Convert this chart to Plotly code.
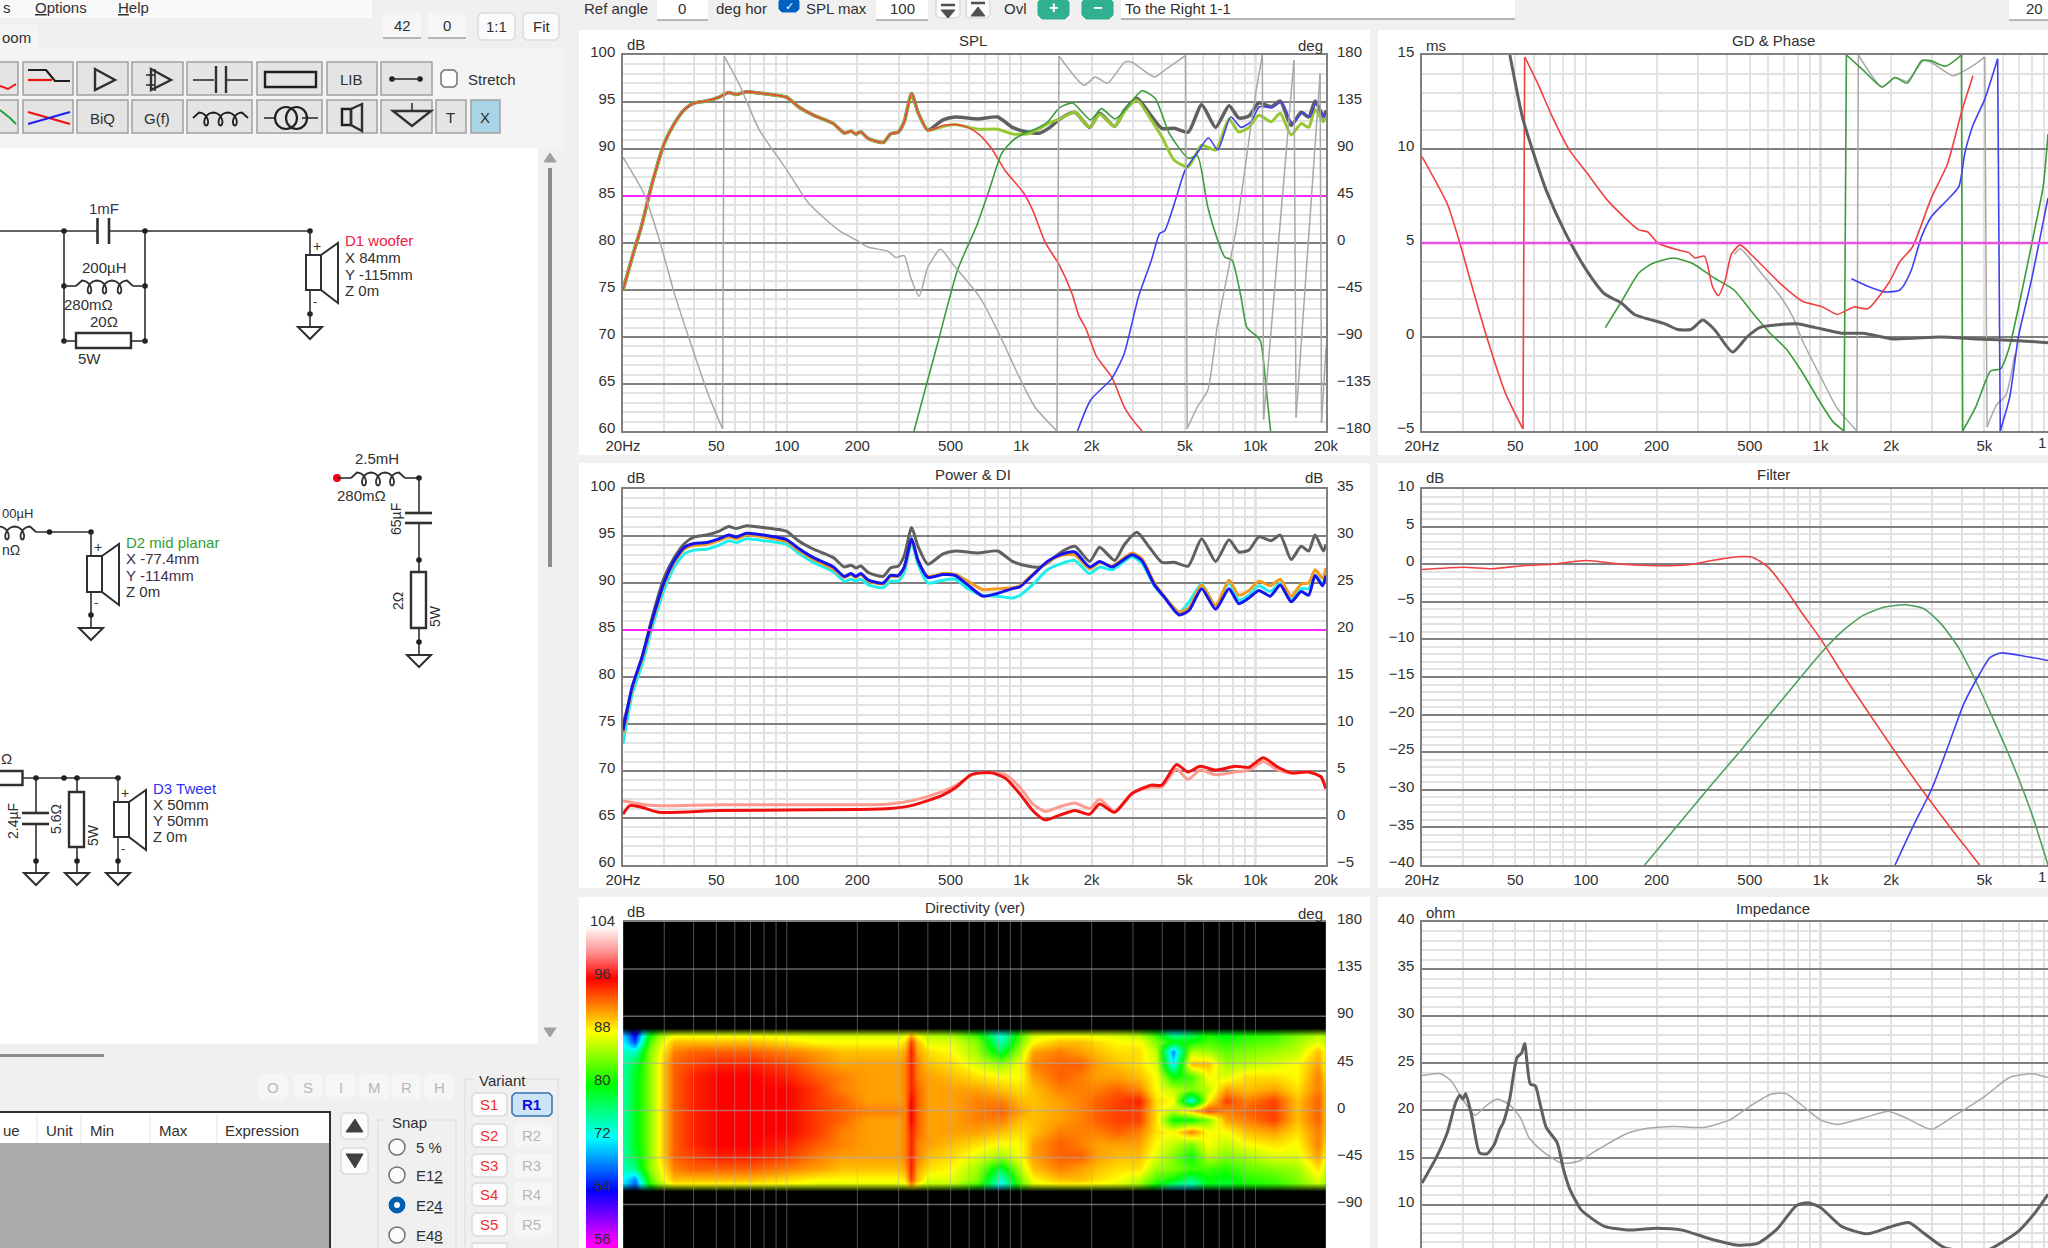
import math
import numpy as np
import plotly.graph_objects as go

W, H = 2048, 1248
FONT = "Liberation Sans, sans-serif"
UI_FONT = "Liberation Sans, sans-serif"

# frequency ticks
f_ticks = [20, 50, 100, 200, 500, 1000, 2000, 5000, 10000, 20000]
f_labels = ['20Hz', '50', '100', '200', '500', '1k', '2k', '5k', '10k', '20k']
f_minor = [30, 40, 60, 70, 80, 90, 300, 400, 600, 700, 800, 900, 3000, 4000, 6000, 7000, 8000, 9000]
f_major = [100, 1000, 10000]

# SPL panel, all in dB
spl_freq = [20, 21.9, 24.1, 26.6, 30, 33.1, 36.6, 40.3, 45.4, 51.2, 56.6, 60.9, 67.3, 79.6, 100, 112, 130, 158, 176, 188,
            197, 207, 223, 258, 277, 299, 317, 341, 363, 400, 464, 524, 653, 794, 919, 1064, 1203, 1327, 1463, 1695,
            1960, 2163, 2506, 2761, 3120, 3525, 3984, 4501, 5164, 5893, 6762, 7710, 8495, 9377, 10340, 11680, 12760,
            14200, 15670, 16870, 17970, 19500, 20000]
spl_total = [75, 78.5, 82, 86.3, 90.6, 92.7, 94.2, 94.9, 95.1, 95.5, 96, 95.8, 96.1, 95.9, 95.5, 94.5, 93.6, 92.7, 91.7, 91.9,
             91.6, 91.8, 91.1, 90.7, 91.6, 91.8, 92.9, 95.9, 93.9, 92, 93.1, 93.4, 93.2, 93.4, 92.3, 91.8, 91.7, 92.3, 93.2, 93.9,
             92.3, 93.8, 92.4, 94.1, 95.4, 93.8, 92.2, 92.2, 91.8, 94.7, 92.3, 94.6, 93.3, 93.5, 94.9, 94.5, 95.1, 92.5, 93.9, 93.4,
             95.1, 93.4, 94.1]
spl_olive = spl_total[:30] + [92.4, 92.6, 92.1, 92.1, 91.6, 91.6, 92.2, 92.8, 93.2, 93.9, 92.3, 93.7, 92.4, 94, 95.2, 93.4,
                              91.3, 88.8, 88.1, 90.4, 89.9, 93.2, 91.8, 92.3, 93.6, 92.9, 93.8, 91.5, 92.7, 92.3, 94.2, 92.9, 93.6]
woofer_freq = spl_freq[:30] + [464, 524, 592, 665, 750, 860, 1020, 1120, 1265, 1460, 1650, 1760, 1890, 2100, 2440, 2750, 3030, 3280]
woofer_db = spl_total[:30] + [92.5, 92.6, 92.3, 91.5, 90, 87.6, 85.4, 83.5, 80.1, 77.6, 74.6, 72.3, 70.9, 67.9, 65.7, 62.6, 61, 60]
mid_freq = [349, 440, 535, 650, 730, 825, 920, 1020, 1145, 1300, 1460, 1660, 1980, 2200, 2530, 3280, 3730, 4300, 5180, 5650,
            6260, 6900, 7400, 7940, 8670, 9200, 10000, 10500, 11100, 11600]
mid_db = [60, 69.3, 77.1, 82, 85.6, 89.5, 90.9, 91.6, 92.1, 92.9, 94.4, 94.9, 93.1, 94.3, 93.2, 96.2, 95.4, 91.6, 89, 89.3,
          83.8, 80.3, 78.5, 78.2, 74.3, 71, 70.2, 69.6, 64.7, 60]
tweet_freq = [1740, 1980, 2440, 2750, 3170, 3600, 3900, 4100, 4600, 5000, 5650, 6300, 6900, 7850, 8670, 9560, 10400, 11800,
              12950, 14400, 15900, 17100, 18200, 19700, 20000]
tweet_db = [60, 63.3, 65.6, 68.2, 74.3, 78.2, 81, 81.3, 84.9, 87.7, 89.6, 91.2, 89.9, 93.4, 92.3, 92.9, 94.5, 94.4,
            95, 92.7, 93.9, 93.4, 95, 93.4, 94.1]
# None marks where the phase wraps round
phase_freq = [20, 24.6, 28.6, 33.1, 39.3, 46.6, 53.2, None, 54, 62.7, 76.4, 100, 124, 167, 197, 223, 271, 292, 317, 338, 367, 400,
              453, 510, 667, 794, 989, 1145, 1422, None, 1450, 1856, 2070, 2340, 2760, 2972, 3706, 4181, 5036, None,
              5110, 5650, 6260, 6870, 8300, 9900, 10700, None, 10830, 14600, None, 14900, 18870, None, 19140, 20000]
phase_deg = [82, 47, 3, -48, -99, -147, -178, None, 179, 152, 108, 70, 38, 12, 3, -4, -8, -14, -12, -33, -51, -23,
             -6, -20, -52, -84, -130, -157, -180, None, 179, 151, 159, 153, 173, 173, 159, 167, 179.5, None,
             -178, -157, -141, -80, 15, 136, 180, None, -169, 175, None, -167, 162, None, -172, -100]

# Power & DI panel
pw_freq = [20, 21.9, 24.1, 26.6, 30, 33.1, 36.6, 40.3, 45.4, 51.2, 56.6, 60.9, 67.3, 79.6, 100, 112, 130, 158, 176, 188,
           197, 207, 223, 258, 277, 299, 317, 341, 363, 400, 464, 524, 592, 686, 794, 919, 989, 1117, 1295, 1463,
           1695, 1960, 2163, 2445, 2972, 3275, 3706, 4083, 4730, 5216, 5893, 6762, 7710, 8495, 9377, 10340, 11570,
           12760, 14200, 15670, 16870, 17970, 19340, 20000]
pw_blue = [74.3, 79, 82.1, 86, 90.1, 92.4, 93.8, 94.2, 94.3, 94.7, 95.1, 94.9, 95.3, 95.1, 94.6, 93.7, 92.7, 91.7, 90.7, 91,
           90.7, 91, 90.3, 90, 90.8, 90.8, 91.7, 94.7, 92.4, 90.6, 90.9, 90.8, 89.8, 88.6, 88.9, 89.4, 89.6, 90.8, 92.3, 93,
           93.3, 91.7, 92.3, 91.7, 93, 92.4, 89.8, 88.5, 86.6, 87.1, 89.4, 87.2, 89.4, 87.8, 88.4, 89.2, 88.6, 89.8, 88, 89.1,
           88.7, 90.8, 89.7, 90.8]
pw_orange = [74, 78.8, 81.9, 85.8, 89.9, 92.2, 93.6, 94, 94.1, 94.5, 94.9, 94.7, 95.1, 94.9, 94.4, 93.5, 92.5, 91.5, 90.6, 90.9,
             90.6, 90.9, 90.2, 89.9, 90.7, 90.7, 91.6, 94.6, 92.4, 90.7, 91, 90.9, 90.2, 89.3, 89.4, 89.5, 89.7, 90.9, 92.2, 92.9,
             93, 91.5, 92.2, 91.8, 93.2, 92.6, 90, 88.6, 86.9, 87.4, 89.8, 87.6, 90.3, 88.7, 89.2, 90.2, 89.7, 90.4, 88.6, 89.9,
             90, 91.4, 90.5, 91.6]
pw_cyan = [72.9, 78.2, 81.3, 85.2, 89.3, 91.7, 93.1, 93.5, 93.6, 94, 94.5, 94.3, 94.7, 94.5, 94.1, 93.2, 92.2, 91.2, 90.2, 90.4,
           90.2, 90.4, 89.8, 89.5, 90.2, 90.2, 91.1, 94.3, 92, 90, 90.3, 90.4, 89.4, 88.7, 88.6, 88.4, 88.7, 89.8, 91.4, 92,
           92.4, 91, 91.7, 91.4, 92.8, 92.1, 89.7, 88.5, 86.9, 88, 89.9, 87.5, 90, 88.2, 88.7, 89.7, 89.1, 90, 88.2, 89.4,
           89.4, 90.8, 89.9, 90.8]
di_freq = [20, 21.3, 23.6, 28.6, 51, 197, 275, 350, 460, 530, 610, 675, 750, 860, 1000, 1120, 1265, 1460, 1695, 1960, 2163, 2506,
           2972, 3580, 3980, 4600, 5164, 5800, 6760, 8200, 9377, 10800, 12500, 14200, 16870, 19000, 20000]
di_red = [0.4, 1.3, 1.2, 0.6, 0.8, 0.9, 1, 1.4, 2.4, 3.3, 4.6, 4.8, 4.8, 4.2, 2.4, 0.8, -0.2, 0.3, 0.8, 0.4, 1.5, 0.6,
          2.6, 3.5, 3.5, 5.7, 4.9, 5.5, 5.1, 5.5, 5.4, 6.4, 5.4, 4.8, 4.9, 4.4, 3.1]
di_pink = [1.8, 1.7, 1.5, 1.3, 1.4, 1.4, 1.5, 1.9, 2.8, 3.5, 4.5, 4.8, 4.8, 4.6, 3.1, 1.5, 0.7, 1.2, 1.6, 1, 2, 0.7,
           2.6, 3.3, 3.3, 5.2, 4.1, 5.1, 4.6, 4.9, 5.1, 6, 5.1, 4.8, 4.9, 4.4, 3.1]

# GD & Phase panel, ms
gd_total_freq = [47.4, 53.6, 59.7, 67.7, 82, 100, 120, 142, 161, 217, 246, 280, 315, 353, 422, 486, 550, 790, 953, 1230, 1520,
                 2040, 3250, 4600, 7000, 9335]
gd_total = [15, 11.7, 9.8, 7.8, 5.5, 3.6, 2.3, 1.8, 1.2, 0.7, 0.4, 0.4, 0.9, 0.4, -0.8, 0, 0.5, 0.7, 0.5, 0.2, 0.2,
            -0.1, 0, -0.1, -0.2, -0.3]
gd_red_freq = [20, 25.6, 29, 33.7, 38.2, 45.4, 53.9, None, 54.8, 62.2, 72, 85.5, 100, 125, 168, 183, 203, 252, 274, 292, 320,
               346, 367, 392, 417, 455, 505, 680, 838, 1020, 1180, 1390, 1590, 1960, 2180, 2470, 2970, 3480, 4000, 4470]
gd_red = [9.6, 7.1, 5, 2.1, -0.2, -3, -4.9, None, 14.9, 13.5, 11.7, 9.9, 8.8, 7.2, 5.7, 5.6, 5, 4.6, 4.5, 4.2, 4.3,
          2.7, 2.2, 3, 4.4, 4.9, 4.4, 2.8, 1.9, 1.6, 1.2, 1.6, 1.5, 2.9, 4, 4.8, 7.4, 9.2, 12, 13.9]
gd_gray_freq = [430, 455, 550, 680, 760, 838, 1000, 1180, 1430, None, 1450, 1830, 2080, 2340, 2750, 2970, 3670, 4030, 4560, 5020, None,
                5130, 5640, 6170, 6740]
gd_gray = [4.4, 4.7, 3.5, 2.1, 1.1, -0.2, -2.1, -3.8, -5, None, 15, 13.3, 13.8, 13.6, 14.7, 14.6, 13.9, 14.1, 14.5, 14.9, None,
           -4.8, -3.6, -3.1, -0.9]
gd_green_freq = [121, 142, 168, 191, 236, 286, 346, 428, 505, 610, 710, 838, 1000, 1130, 1260, None, 1290, 1520, 1830, 2080, 2340,
                 2700, 2950, 3420, 3990, None, 4040, 4600, 5320, 5860, 6400, 7300, 8000, 8900, 9335]
gd_green = [0.5, 1.9, 3.4, 3.9, 4.2, 3.9, 3.2, 2.5, 1.4, 0.2, -0.6, -1.9, -3.5, -4.5, -5, None, 15, 14.2, 13.3, 13.8, 13.5,
            14.7, 14.7, 14.4, 15, None, -5, -3.7, -1.8, -1.7, -0.5, 2.7, 5.1, 8, 10.8]
gd_blue_freq = [1356, 1590, 1880, 2180, 2430, 2690, 2970, 3480, 3890, 4130, 4480, 5000, 5695, None, 5843, 6410, 6980, 7925, 9335]
gd_blue = [3.1, 2.7, 2.4, 2.5, 3.5, 5.3, 6.4, 7.3, 8, 9.8, 11.3, 12.6, 14.8, None, -5, -3.2, 0, 3, 7.4]

# Filter panel, dB
flt_red_freq = [20, 30, 40, 53.7, 72, 100, 142, 200, 268, 361, 445, 515, 598, 710, 838, 1000, 1280, 1690, 2230, 2860, 3700, 4770]
flt_red = [-0.7, -0.4, -0.6, -0.2, 0, 0.5, 0, -0.2, -0.1, 0.6, 1, 0.9, -0.4, -3.3, -6.6, -9.9, -15.2, -20.8, -26.3, -31, -35.6, -40]
flt_green_freq = [178, 331, 465, 598, 805, 1000, 1230, 1520, 1880, 2300, 2750, 3260, 3860, 4590, 5400, 6690, 7960, 9335]
flt_green = [-40, -29.9, -24.5, -20.3, -15.4, -11.9, -9, -6.8, -5.7, -5.4, -5.9, -7.9, -11, -15.5, -20.3, -27, -33.2, -40]
flt_blue_freq = [2080, 2470, 2980, 3530, 4080, 4770, 5290, 5870, 7000, 9335]
flt_blue = [-40, -35, -29.9, -23.9, -18.6, -14.6, -12.4, -11.8, -12.1, -12.8]

# Impedance panel, ohm
imp_freq = [20, 23, 25.6, 27.8, 29, 29.9, 30.7, 32.6, 35.2, 37.9, 40.7, 42.9, 44.4, 47.3, 50.8, 53.2, 54.8, 57.9, 60.9, 63.6,
            67.7, 75.3, 80.3, 85.5, 95, 100, 120, 155, 200, 257, 346, 445, 540, 653, 790, 885, 1000, 1230, 1590, 1960,
            2380, 2750, 3400, 4560, 5180, 7000, 8250, 9335]
imp_mag = [12.3, 15, 17.6, 20.8, 21.6, 21.2, 21.8, 19.4, 15.5, 15.4, 16.4, 18, 18.7, 21.2, 25.6, 26.1, 27.1, 22.8, 22.6, 20.8,
           18.2, 16.6, 13.7, 11.6, 9.5, 9, 7.7, 7.3, 7.5, 7.3, 6.3, 5.7, 5.9, 7.4, 9.9, 10.2, 9.7, 7.7, 6.9, 7.6,
           8.1, 7, 5.4, 5.1, 5.2, 7.2, 9.2, 11.1]
imp2_freq = [20, 24, 26.7, 29.6, 33.7, 37.5, 41.6, 47.3, 52.6, 57.2, 65, 78.6, 93, 110, 148, 183, 236, 318, 410, 505,
             610, 710, 838, 1000, 1180, 1520, 1960, 2320, 2970, 3700, 5020, 6400, 8000, 9335]
imp2_mag = [23.7, 23.9, 23.1, 21.3, 19.5, 20.5, 21.2, 20.6, 19.2, 17.1, 15.7, 14.4, 14.6, 15.7, 17.5, 18.1, 18.3, 18.2, 19, 20.5,
            21.7, 21.8, 20.5, 19, 18.5, 19.2, 19.9, 19.2, 18, 19.4, 21.5, 23.5, 23.9, 23.5]

# Directivity map, one line per frequency, dB at each angle
dir_angle = [76, 66, 56, 44, 32, 20, 9, 0, -9, -20, -32, -44, -56, -66, -76]
dir_freq = [20, 22.4, 25.8, 29, 33, 40, 51, 72, 100, 137, 170, 223, 300, 320, 340, 360, 400, 510, 650, 820, 1000, 1120,
            1460, 1800, 2100, 2570, 3180, 3770, 4430, 5300, 6300, 7500, 9100, 12000, 15000, 18500, 20000]
dir_db = [
    [70, 72, 74, 75, 75, 75, 75, 75, 75, 75, 75, 75, 74, 72, 70],
    [62, 66, 74, 78, 79, 79, 79, 79, 79, 79, 79, 78, 76, 68, 66],
    [78, 82, 84, 84, 84, 84, 84, 84, 84, 84, 84, 84, 84, 82, 78],
    [84, 87, 88, 89, 89, 89, 89, 89, 89, 89, 89, 89, 88, 87, 84],
    [86, 90, 92, 93, 93, 93, 93, 93, 93, 93, 93, 93, 92, 90, 86],
    [86, 90, 93, 94, 95, 95, 95, 95, 95, 95, 95, 94, 93, 90, 86],
    [86, 90, 93, 95, 96, 96, 96, 96, 96, 96, 96, 95, 93, 90, 86],
    [86, 90, 93, 95, 96, 96, 96, 96, 96, 96, 96, 95, 93, 90, 86],
    [86, 89, 92, 94, 95, 96, 96, 96, 96, 96, 95, 94, 92, 89, 86],
    [86, 88, 91, 92, 93, 94, 94, 94, 94, 94, 93, 92, 91, 88, 86],
    [86, 88, 90, 91, 92, 92, 93, 93, 93, 92, 92, 91, 90, 88, 86],
    [86, 88, 90, 91, 91, 91, 91, 92, 91, 91, 91, 91, 90, 88, 86],
    [86, 88, 90, 91, 91, 91, 91, 92, 91, 91, 91, 91, 90, 88, 86],
    [86, 89, 91, 92, 92, 92, 92, 92, 92, 92, 92, 92, 91, 89, 86],
    [88, 94, 95, 95, 95, 95, 96, 96, 96, 95, 95, 95, 95, 94, 88],
    [86, 90, 91, 92, 92, 93, 93, 93, 93, 93, 92, 92, 91, 90, 86],
    [85, 87, 89, 90, 91, 91, 91, 91, 91, 91, 91, 90, 89, 87, 85],
    [84, 87, 88, 89, 90, 91, 91, 91, 91, 91, 90, 89, 88, 87, 84],
    [80, 84, 85, 87, 89, 91, 92, 92, 92, 91, 89, 87, 85, 84, 80],
    [72, 74, 78, 85, 88, 90, 92, 93, 92, 90, 88, 85, 78, 73, 71],
    [82, 84, 86, 88, 88, 89, 90, 91, 90, 89, 88, 88, 86, 84, 82],
    [86, 88, 91, 92, 91, 90, 90, 90, 90, 90, 91, 91, 90, 88, 86],
    [86, 90, 92, 93, 93, 92, 91, 91, 91, 92, 93, 93, 92, 90, 86],
    [86, 90, 91, 93, 92, 92, 92, 92, 92, 92, 92, 93, 91, 90, 86],
    [86, 89, 90, 91, 91, 92, 93, 93, 93, 92, 91, 91, 90, 89, 86],
    [86, 88, 89, 90, 91, 93, 94, 94, 94, 93, 91, 90, 89, 88, 86],
    [84, 88, 89, 89, 90, 92, 95, 94, 94, 92, 91, 90, 89, 86, 84],
    [80, 84, 86, 87, 88, 88, 89, 89, 89, 89, 88, 87, 85, 82, 78],
    [72, 80, 68, 72, 80, 86, 88, 86, 80, 88, 86, 84, 84, 80, 72],
    [76, 80, 86, 90, 82, 84, 72, 90, 80, 92, 84, 80, 82, 76, 72],
    [80, 82, 85, 90, 88, 86, 88, 94, 84, 88, 88, 86, 82, 80, 79],
    [78, 81, 83, 85, 87, 91, 94, 92, 91, 88, 86, 84, 81, 79, 78],
    [80, 82, 84, 86, 89, 90, 92, 93, 92, 90, 88, 85, 83, 81, 80],
    [81, 83, 85, 87, 89, 91, 94, 94, 94, 91, 89, 87, 84, 82, 81],
    [83, 85, 86, 88, 88, 89, 90, 90, 90, 89, 88, 87, 85, 84, 83],
    [85, 87, 90, 91, 92, 92, 93, 93, 93, 92, 92, 91, 89, 87, 85],
    [84, 86, 88, 88, 89, 90, 90, 90, 90, 90, 89, 88, 86, 85, 84],
]
fade_angle = [180, 79, 71, -69, -77, -180]
fade_alpha = [1, 1, 0, 0, 1, 1]
bar_levels = [56, 60, 64, 68, 72, 76, 80, 84, 88, 92, 96, 100, 104]
bar_ticks = [56, 64, 72, 80, 88, 96, 104]

rainbow = [[0, '#ff00ff'], [4/48, '#8000ff'], [8/48, '#0000ff'], [12/48, '#0080ff'], [16/48, '#00ffff'], [20/48, '#00ff80'],
           [24/48, '#00ff00'], [28/48, '#80ff00'], [32/48, '#ffff00'], [36/48, '#ff8000'], [40/48, '#ff0000'], [44/48, '#ff9090'],
           [1, '#ffffff']]

GRID = '#e2e2e2'
DARK = '#808080'
TXT = '#303030'
CURVE_TOTAL = '#606060'
PHASE = '#a8a8a8'
RED = '#f04040'
GREEN = '#3c9c3c'
BLUE = '#4040f0'
OLIVE = '#96c832'
MAGENTA = '#ff20ff'
TICK = 15
LIFT = -3  # y tick labels sit a little above their grid line


def px(x):
    return x / W


def py(y):
    return 1 - y / H


fig = go.Figure()
shapes = []
notes = []


def curve(x, y, xa, ya, color, width, smooth=True):
    line = dict(color=color, width=width)
    if smooth:
        line.update(shape='spline', smoothing=0.6)
    fig.add_trace(go.Scatter(x=x, y=y, xaxis=xa, yaxis=ya, mode='lines', line=line, hoverinfo='skip',
                             connectgaps=False))
    # straight vertical piece at every wrap
    jx, jy = [], []
    for i in range(1, len(x) - 1):
        if x[i] is None:
            jx += [x[i - 1], x[i + 1], None]
            jy += [y[i - 1], y[i + 1], None]
    if jx:
        fig.add_trace(go.Scatter(x=jx, y=jy, xaxis=xa, yaxis=ya, mode='lines', line=dict(color=color, width=width),
                                 hoverinfo='skip'))


def x_axis(left, right, fmax, anchor, labels=True, closed=True):
    return dict(type='log', range=[math.log10(20), math.log10(fmax)], domain=[px(left), px(right)], anchor=anchor,
                tickmode='array', tickvals=f_ticks, ticktext=f_labels, ticks='', showticklabels=labels, automargin=False,
                showgrid=True, gridcolor=GRID, gridwidth=1.5, zeroline=False,
                minor=dict(tickmode='array', tickvals=f_minor, showgrid=True, gridcolor=GRID, gridwidth=1.5, ticks=''),
                showline=True, linecolor=DARK, linewidth=1.5, mirror=closed,
                side='bottom' if closed else 'top',
                tickfont=dict(family=FONT, size=TICK, color=TXT))


def y_axis(top, bottom, rng, anchor, dtick=5, closed=True):
    return dict(range=rng, domain=[py(bottom), py(top)], anchor=anchor, tick0=0, dtick=dtick, ticks='', automargin=False,
                showgrid=True, gridcolor=DARK, gridwidth=1.5, zeroline=False, ticklabelstandoff=3, ticklabelshift=LIFT,
                minor=dict(dtick=1, tick0=0, showgrid=True, gridcolor=GRID, gridwidth=1.5, ticks=''),
                showline=True, linecolor=DARK, linewidth=1.5, mirror=closed,
                tickfont=dict(family=FONT, size=TICK, color=TXT))


def y_right(rng, over, anchor, dtick):
    return dict(range=rng, overlaying=over, anchor=anchor, side='right', dtick=dtick, tick0=0, ticks='', showgrid=False,
                automargin=False, zeroline=False, ticklabelstandoff=10, ticklabelshift=LIFT,
                tickfont=dict(family=FONT, size=TICK, color=TXT))


# grey panels and the six charts
L1, R1, L2, R2 = 623, 1326, 1422, 2048
gd_fmax = 9335
dir_rng = [-131.5, 180]
imp_rng = [5.4, 40]
bar_rng = [55.3, 104.5]
fig.update_layout(
    width=W, height=H, margin=dict(l=0, r=0, t=0, b=0, pad=0), autosize=False, showlegend=False, hovermode=False,
    paper_bgcolor='#f0f0f0', plot_bgcolor='rgba(0,0,0,0)',
    xaxis=x_axis(L1, R1, 20000, 'y'), yaxis=y_axis(55, 431, [60, 100], 'x'), yaxis2=y_right([-180, 180], 'y', 'x', 45),
    xaxis2=x_axis(L1, R1, 20000, 'y3'), yaxis3=y_axis(489, 865, [60, 100], 'x2'), yaxis4=y_right([-5, 35], 'y3', 'x2', 5),
    xaxis3=x_axis(L1, R1, 20000, 'y5', labels=False, closed=False),
    yaxis5=dict(range=dir_rng, domain=[py(H), py(922)], anchor='x3', side='right', dtick=45, tick0=0, ticks='', automargin=False,
                showgrid=False, zeroline=False, ticklabelstandoff=10, ticklabelshift=LIFT,
                tickfont=dict(family=FONT, size=TICK, color=TXT)),
    xaxis4=dict(range=[0, 1], domain=[px(586), px(618)], anchor='y6', visible=False, automargin=False),
    yaxis6=dict(range=bar_rng, domain=[py(H), py(922)], anchor='x4', automargin=False, showticklabels=False,
                ticks='', showgrid=False, zeroline=False, showline=False),
    xaxis5=x_axis(L2, R2, gd_fmax, 'y7'), yaxis7=y_axis(55, 431, [-5, 15], 'x5'),
    xaxis6=x_axis(L2, R2, gd_fmax, 'y8'), yaxis8=y_axis(489, 865, [-40, 10], 'x6'),
    xaxis7=x_axis(L2, R2, gd_fmax, 'y9', labels=False, closed=False), yaxis9=y_axis(922, H, imp_rng, 'x7', closed=False),
)

# SPL
curve(spl_freq, spl_total, 'x', 'y', CURVE_TOTAL, 3.5)
curve(spl_freq, spl_olive, 'x', 'y', OLIVE, 3)
curve(woofer_freq, woofer_db, 'x', 'y', RED, 1.6)
curve(mid_freq, mid_db, 'x', 'y', GREEN, 1.6)
curve(tweet_freq, tweet_db, 'x', 'y', BLUE, 1.6)
curve([20, 20000], [85, 85], 'x', 'y', MAGENTA, 2, smooth=False)
curve(phase_freq, phase_deg, 'x', 'y2', PHASE, 1.5)

# Power & DI
curve(spl_freq, spl_total, 'x2', 'y3', CURVE_TOTAL, 3)
curve(pw_freq, pw_cyan, 'x2', 'y3', '#20eeee', 3)
curve(pw_freq, pw_orange, 'x2', 'y3', '#f59a20', 3)
curve(pw_freq, pw_blue, 'x2', 'y3', '#1414ee', 3)
curve([20, 20000], [85, 85], 'x2', 'y3', MAGENTA, 2, smooth=False)
curve(di_freq, di_pink, 'x2', 'y4', '#ff9a90', 3)
curve(di_freq, di_red, 'x2', 'y4', '#f01010', 3)

# directivity map with the dark fade at both edges
fig.add_trace(go.Heatmap(x=dir_freq, y=dir_angle, z=np.array(dir_db).T.tolist(), xaxis='x3', yaxis='y5', colorscale=rainbow,
                         zmin=56, zmax=104, zsmooth='best', showscale=False, hoverinfo='skip'))
fig.add_trace(go.Heatmap(x=[20, 20000], y=fade_angle, z=[[a, a] for a in fade_alpha], xaxis='x3', yaxis='y5', zmin=0, zmax=1,
                         colorscale=[[0, 'rgba(0,0,0,0)'], [1, 'rgba(0,0,0,1)']], zsmooth='best', showscale=False,
                         hoverinfo='skip'))
fig.add_trace(go.Heatmap(x=[0, 1], y=bar_levels, z=[[v, v] for v in bar_levels], xaxis='x4', yaxis='y6', colorscale=rainbow,
                         zmin=56, zmax=104, zsmooth='best', showscale=False, hoverinfo='skip'))

# GD & phase
curve(gd_gray_freq, gd_gray, 'x5', 'y7', PHASE, 1.5)
curve(gd_green_freq, gd_green, 'x5', 'y7', GREEN, 1.6)
curve(gd_blue_freq, gd_blue, 'x5', 'y7', BLUE, 1.6)
curve(gd_red_freq, gd_red, 'x5', 'y7', RED, 1.6)
curve(gd_total_freq, gd_total, 'x5', 'y7', CURVE_TOTAL, 3)
curve([20, gd_fmax], [5, 5], 'x5', 'y7', '#e850e0', 2.5, smooth=False)

# Filter
curve(flt_red_freq, flt_red, 'x6', 'y8', RED, 1.6)
curve(flt_green_freq, flt_green, 'x6', 'y8', '#50a060', 1.6)
curve(flt_blue_freq, flt_blue, 'x6', 'y8', BLUE, 1.6)

# Impedance
curve(imp2_freq, imp2_mag, 'x7', 'y9', PHASE, 1.5)
curve(imp_freq, imp_mag, 'x7', 'y9', CURVE_TOTAL, 3)


def rect(x0, y0, x1, y1, fill='rgba(0,0,0,0)', edge=None, w=1, layer='above', radius=0):
    if radius:
        r = radius
        p = [(x0 + r, y0), (x1 - r, y0), (x1, y0 + r), (x1, y1 - r), (x1 - r, y1), (x0 + r, y1), (x0, y1 - r), (x0, y0 + r)]
        poly(p, fill=fill, edge=edge or fill, w=w, layer=layer)
        return
    shapes.append(dict(type='rect', xref='paper', yref='paper', x0=px(x0), x1=px(x1), y0=py(y0), y1=py(y1),
                       fillcolor=fill, line=dict(color=edge or 'rgba(0,0,0,0)', width=w if edge else 0), layer=layer))


def wire(x0, y0, x1, y1, color='#303030', w=1.6):
    shapes.append(dict(type='line', xref='paper', yref='paper', x0=px(x0), x1=px(x1), y0=py(y0), y1=py(y1),
                       line=dict(color=color, width=w)))


def poly(points, fill='rgba(0,0,0,0)', edge='#303030', w=1.8, closed=True, layer='above'):
    d = 'M' + ' L'.join('%.5f,%.5f' % (px(a), py(b)) for a, b in points) + (' Z' if closed else '')
    shapes.append(dict(type='path', xref='paper', yref='paper', path=d, fillcolor=fill, line=dict(color=edge, width=w),
                       layer=layer))


def node(x, y, r=2.8, color='#202020'):
    shapes.append(dict(type='circle', xref='paper', yref='paper', x0=px(x - r), x1=px(x + r), y0=py(y - r), y1=py(y + r),
                       fillcolor=color, line=dict(color=color, width=0)))


def text(x, y, s, color=TXT, size=15, anchor='left', angle=0, font=UI_FONT):
    notes.append(dict(xref='paper', yref='paper', x=px(x), y=py(y), text=s, showarrow=False, xanchor=anchor, yanchor='middle',
                      textangle=angle, font=dict(family=font, size=size, color=color)))


def coil(x0, x1, y, color='#303030'):
    pts = [(x0, y)]
    loops = 3
    for i in range(61):
        t = i / 60
        th = 2 * math.pi * loops * t
        pts.append((x0 + 6 + (x1 - x0 - 12) * t + 5 * math.sin(th), y - 6.5 * math.cos(th) + 1))
    pts.append((x1, y))
    poly(pts, edge=color, w=1.8, closed=False)


def ground(x, top):
    poly([(x - 12, top), (x + 12, top), (x, top + 12)], w=2)


def speaker(x, top, bottom):
    rect(x - 4, top, x + 11, bottom, edge='#303030', w=2)
    poly([(x + 11, top), (x + 28, top - 12), (x + 28, bottom + 13), (x + 11, bottom)], w=2)
    text(x + 7, top - 9, '+', size=14, anchor='center')
    text(x + 5, bottom + 11, '-', size=13, anchor='center')


# white panels behind the charts
for x0, y0, x1, y1 in [(579, 30, 1370, 455), (1378, 30, W, 455), (579, 463, 1370, 888), (1378, 463, W, 888),
                       (579, 897, 1370, H), (1378, 897, W, H)]:
    rect(x0, y0, x1, y1, fill='#ffffff', layer='below')

# the grid is drawn over the map
for v in f_ticks + f_minor:
    shapes.append(dict(type='line', xref='x3', yref='y5 domain', x0=v, x1=v, y0=0, y1=1,
                       line=dict(color='rgba(170,170,170,0.45)', width=1), layer='above'))
for v in [135, 90, 45, 0, -45, -90]:
    shapes.append(dict(type='line', xref='x3 domain', yref='y5', x0=0, x1=1, y0=v, y1=v,
                       line=dict(color='rgba(170,170,170,0.6)', width=1.5), layer='above'))

# darker decade lines
for xa, ya in [('x', 'y'), ('x2', 'y3'), ('x5', 'y7'), ('x6', 'y8'), ('x7', 'y9')]:
    for v in f_major:
        if xa in ('x5', 'x6', 'x7') and v > gd_fmax:
            continue
        shapes.append(dict(type='line', xref=xa, yref=ya + ' domain', x0=v, x1=v, y0=0, y1=1,
                           line=dict(color=DARK, width=1.5), layer='below'))

# colour bar numbers sit on the bar, a little above their level
for v in bar_ticks:
    text(602, 922 + (bar_rng[1] - v) * (H - 922) / (bar_rng[1] - bar_rng[0]) - 5, str(v), anchor='center', size=TICK)

# panel captions
for cx, cy, s in [(973, 41, 'SPL'), (973, 474, 'Power &amp; DI'), (975, 907, 'Directivity (ver)'),
                  (1773, 41, 'GD &amp; Phase'), (1773, 474, 'Filter'), (1773, 908, 'Impedance')]:
    text(cx, cy, s, anchor='center', size=15, font=FONT)
for lx, ly, s in [(625, 45, 'dB'), (1310, 46, 'deg'), (625, 478, 'dB'), (1314, 478, 'dB'), (625, 911, 'dB'), (1310, 913, 'deg'),
                  (1424, 46, 'ms'), (1424, 478, 'dB'), (1424, 912, 'ohm')]:
    text(lx, ly, s, anchor='left' if lx < 1300 or lx > 1400 else 'center', size=15, font=FONT)
# only the first digit of 10k fits on these two panels
text(2048, 443, '1', anchor='right', size=TICK, font=FONT)
text(2048, 877, '1', anchor='right', size=TICK, font=FONT)

# left side: canvas, toolbar, table
rect(0, 148, 538, 1044, fill='#ffffff')
rect(0, 49, 563, 148, fill='#f4f4f4')
rect(0, 0, 372, 18, fill='#f9f9f9')
rect(0, 25, 38, 49, fill='#f4f4f4')
text(1, 8, 's', size=15)
text(33, 8, '<u>O</u>ptions', size=15)
text(116, 8, '<u>H</u>elp', size=15)
text(0, 37, 'oom', size=15)

for x0, x1, s in [(383, 421, '42'), (428, 466, '0')]:
    rect(x0, 13, x1, 38, fill='#f6f6f6')
    wire(x0, 38, x1, 38, color='#a0a0a0', w=1.5)
    text((x0 + x1) / 2, 25, s, anchor='center', size=15, font=FONT)
for x0, x1, s in [(478, 515, '1:1'), (523, 559, 'Fit')]:
    rect(x0, 13, x1, 40, fill='#fbfbfb', edge='#dcdcdc', w=1.5, radius=3)
    text((x0 + x1) / 2, 26, s, anchor='center', size=15, font=FONT)

row1 = [(-8, 18), (23, 73), (77, 128), (132, 183), (187, 252), (257, 322), (327, 377), (381, 432)]
row2 = row1 + [(436, 466)]
for x0, x1 in row1:
    rect(x0, 62, x1, 95, fill='#e4e4e4', edge='#a0a0a0', w=1.5)
for x0, x1 in row2:
    rect(x0, 100, x1, 133, fill='#e4e4e4', edge='#a0a0a0', w=1.5)
rect(471, 100, 500, 133, fill='#a8d4e6', edge='#a0a0a0', w=1.5)
text(351, 79, 'LIB', anchor='center', size=15)
text(102, 118, 'BiQ', anchor='center', size=15)
text(157, 118, 'G(f)', anchor='center', size=15)
text(450, 117, 'T', anchor='center', size=15)
text(485, 117, 'X', anchor='center', size=15)
rect(441, 70, 457, 87, fill='#ffffff', edge='#707070', w=1.5, radius=3)
text(466, 79, 'Stretch', size=15)
# toolbar icons
poly([(0, 86), (8, 89), (16, 84)], edge='#f01010', closed=False, w=2)
poly([(0, 110), (10, 118), (16, 124)], edge='#20a040', closed=False, w=2)
poly([(28, 70), (46, 70), (55, 81), (70, 81)], edge='#202020', closed=False, w=2.2)
wire(28, 80, 52, 80, color='#f01010', w=2.2)
wire(28, 112, 70, 124, color='#f01010', w=2.2)
wire(28, 124, 70, 112, color='#2020f0', w=2.2)
poly([(95, 69), (115, 80), (95, 90)], w=2.4)
poly([(151, 69), (171, 80), (151, 90)], w=2.4)
wire(146, 75, 155, 75)
wire(146, 85, 155, 85)
wire(155, 69, 155, 91)
wire(193, 80, 214, 80)
wire(226, 80, 248, 80)
wire(216, 66, 216, 93, w=2.4)
wire(226, 66, 226, 93, w=2.4)
rect(265, 72, 316, 87, edge='#202020', w=2.4)
node(392, 79)
node(420, 79)
wire(392, 79, 420, 79)
coil(193, 248, 118, color='#202020')
wire(264, 118, 275, 118)
wire(302, 118, 318, 118)
shapes.append(dict(type='circle', xref='paper', yref='paper', x0=px(275), x1=px(297), y0=py(107), y1=py(129), line=dict(color='#202020', width=2.2)))
shapes.append(dict(type='circle', xref='paper', yref='paper', x0=px(286), x1=px(307), y0=py(107), y1=py(129), line=dict(color='#202020', width=2.2)))
rect(342, 109, 351, 125, edge='#202020', w=2.4)
poly([(351, 109), (362, 104), (362, 131), (351, 125)], w=2.4)
poly([(393, 111), (431, 111), (412, 126)], w=2.4)
wire(412, 103, 412, 111)

# scroll bar
rect(538, 148, 563, 1044, fill='#f0f0f0')
rect(548, 168, 552, 567, fill='#8c8c8c')
poly([(544, 162), (556, 162), (550, 153)], fill='#a0a0a0', edge='#a0a0a0', w=1)
poly([(544, 1028), (556, 1028), (550, 1037)], fill='#a0a0a0', edge='#a0a0a0', w=1)
rect(0, 1054, 104, 1057, fill='#8c8c8c')

# schematic: D1 woofer
wire(0, 231, 97.5, 231)
wire(109, 231, 310, 231)
wire(97.5, 218, 97.5, 244, w=2.6)
wire(109, 218, 109, 244, w=2.6)
wire(64, 231, 64, 341)
wire(145, 231, 145, 341)
for nx, ny in [(64, 231), (145, 231), (310, 231), (64, 286), (145, 286), (64, 341), (145, 341), (310, 314)]:
    node(nx, ny)
wire(64, 286, 76, 286)
coil(76, 133, 286)
wire(133, 286, 145, 286)
wire(64, 341, 76, 341)
wire(131, 341, 145, 341)
rect(76, 333, 131, 348, fill='#ffffff', edge='#303030', w=2.4)
wire(310, 231, 310, 255)
speaker(310, 255, 290)
wire(310, 290, 310, 327)
ground(310, 327)
text(104, 209, '1mF', anchor='center', color='#40304a')
text(104, 267, '200µH', anchor='center')
text(62, 304, '280mΩ')
text(104, 322, '20Ω', anchor='center')
text(89, 358, '5W', anchor='center')
text(343, 241, 'D1 woofer', color='#f02040')
text(343, 257, 'X 84mm')
text(343, 274, 'Y -115mm')
text(343, 290, 'Z 0m')

# D2 mid planar
coil(-22, 36, 532)
wire(36, 532, 91, 532)
node(49.5, 532)
node(91, 532)
wire(91, 532, 91, 556)
speaker(91, 556, 592)
wire(91, 592, 91, 628)
node(91, 615)
ground(91, 628)
text(0, 513, '00µH', size=13)
text(0, 550, 'nΩ', size=14)
text(123.5, 542, 'D2 mid planar', color='#30a030')
text(123.5, 558, 'X -77.4mm', color='#40304a')
text(123.5, 575, 'Y -114mm', color='#40304a')
text(123.5, 591, 'Z 0m')

# notch branch
node(337, 478, r=4, color='#f00010')
wire(337, 478, 351, 478)
coil(351, 405, 478)
wire(405, 478, 419, 478)
node(419, 478)
wire(419, 478, 419, 513)
wire(405, 513, 432, 513, w=2.6)
wire(405, 523, 432, 523, w=2.6)
wire(419, 523, 419, 572)
node(419, 560)
rect(411, 572, 426, 628, fill='#ffffff', edge='#303030', w=2.4)
wire(419, 628, 419, 655)
node(419, 642)
ground(419, 655)
text(377, 458, '2.5mH', anchor='center')
text(361, 496, '280mΩ', anchor='center')
text(396, 519, '65µF', anchor='center', angle=-90, size=14)
text(398, 601, '2Ω', anchor='center', angle=-90, size=14)
text(435, 616, '5W', anchor='center', angle=-90, size=14)

# D3 tweeter
rect(-20, 771, 22.5, 785, fill='#ffffff', edge='#303030', w=2.4)
wire(22.5, 778, 118, 778)
for nx in [36, 64, 77, 118]:
    node(nx, 778)
text(6, 759, 'Ω', anchor='center')
wire(36, 778, 36, 813)
wire(22, 813, 49, 813, w=2.6)
wire(22, 824, 49, 824, w=2.6)
wire(36, 824, 36, 873)
wire(77, 778, 77, 792)
rect(69, 792, 84, 847, fill='#ffffff', edge='#303030', w=2.4)
wire(77, 847, 77, 873)
wire(118, 778, 118, 802)
speaker(118, 802, 837)
wire(118, 837, 118, 873)
for nx in [36, 77, 118]:
    node(nx, 861)
    ground(nx, 873)
text(13, 821, '2.4µF', anchor='center', angle=-90, size=14)
text(56, 819, '5.6Ω', anchor='center', angle=-90, size=14)
text(93, 835, '5W', anchor='center', angle=-90, size=14)
text(151, 788, 'D3 Tweet', color='#3030f0')
text(151, 804, 'X 50mm')
text(151, 820, 'Y 50mm')
text(151, 837, 'Z 0m')

# small disabled buttons
for cx, s in zip([273, 308, 341, 374, 406, 439], ['O', 'S', 'I', 'M', 'R', 'H']):
    rect(cx - 14, 1074, cx + 14, 1099, fill='#f6f6f6', radius=3)
    text(cx, 1087, s, anchor='center', color='#b8b8b8', size=15)

# variant box
rect(465, 1079, 558, H + 5, edge='#dcdcdc', w=1)
rect(474, 1072, 522, 1088, fill='#f0f0f0')
text(477, 1080, 'Variant', size=15)
for i, cy in enumerate([1104, 1135, 1165, 1194, 1224]):
    rect(472, cy - 11, 507, cy + 12, fill='#fbfbfb', edge='#dcdcdc', w=1.5, radius=3)
    text(489, cy, 'S%d' % (i + 1), anchor='center', color='#f03030', size=15, font=FONT)
    if i == 0:
        rect(512, cy - 11, 552, cy + 12, fill='#cce4f7', edge='#3070b0', w=1.5, radius=3)
        text(531, cy, '<b>R1</b>', anchor='center', color='#1010e0', size=15)
    else:
        rect(514, cy - 11, 552, cy + 12, fill='#f6f6f6', radius=3)
        text(531, cy, 'R%d' % (i + 1), anchor='center', color='#b8b8b8', size=15, font=FONT)
rect(472, 1243, 507, H + 5, fill='#fbfbfb', edge='#dcdcdc', w=1.5)

# parameter table
rect(-5, 1112, 330, H + 5, fill='#ababab', edge='#303030', w=2)
rect(0, 1113, 329, 1143, fill='#ffffff')
for dx in [37, 81, 150, 217]:
    wire(dx, 1114, dx, 1143, color='#e8e8e8', w=1.2)
for cx, s in [(60, 'Unit'), (102, 'Min'), (173, 'Max'), (262, 'Expression')]:
    text(cx, 1130, s, anchor='center', size=15, font=FONT)
text(1, 1130, 'ue', size=15, font=FONT)

# move row buttons
rect(341, 1113, 368, 1139, fill='#fbfbfb', edge='#dcdcdc', w=1.5, radius=3)
rect(341, 1148, 368, 1174, fill='#fbfbfb', edge='#dcdcdc', w=1.5, radius=3)
poly([(346, 1132), (363, 1132), (355, 1119)], fill='#404040', edge='#404040', w=1)
poly([(346, 1154), (363, 1154), (355, 1168)], fill='#404040', edge='#404040', w=1)

# snap group
rect(378, 1120, 456, H + 5, edge='#dcdcdc', w=1)
rect(386, 1112, 426, 1130, fill='#f0f0f0')
text(390, 1122, 'Snap', size=15)
for cy, s, on in [(1147, '5 %', False), (1175, 'E1<u>2</u>', False), (1205, 'E2<u>4</u>', True), (1235, 'E4<u>8</u>', False)]:
    if on:
        shapes.append(dict(type='circle', xref='paper', yref='paper', x0=px(389), x1=px(405), y0=py(cy - 8), y1=py(cy + 8),
                           fillcolor='#0060b0', line=dict(color='#0060b0', width=1)))
        node(397, cy, r=3, color='#ffffff')
    else:
        shapes.append(dict(type='circle', xref='paper', yref='paper', x0=px(389), x1=px(405), y0=py(cy - 8), y1=py(cy + 8),
                           fillcolor='#fbfbfb', line=dict(color='#707070', width=1.5)))
    text(414, cy, s, size=15, font=FONT)

# top strip over the charts
text(582, 9, 'Ref angle', size=15)
rect(657, -2, 708, 20, fill='#ffffff')
wire(657, 20, 708, 20, color='#a0a0a0', w=1.5)
text(682, 9, '0', anchor='center', size=15)
text(714, 9, 'deg hor', size=15)
rect(779, -2, 799, 12, fill='#0060c0', radius=3)
text(789, 6, '✓', anchor='center', color='#ffffff', size=11)
text(804, 9, 'SPL max', size=15)
rect(876, -2, 928, 20, fill='#ffffff')
wire(876, 20, 928, 20, color='#a0a0a0', w=1.5)
text(902, 9, '100', anchor='center', size=15)
for x0, x1 in [(936, 960), (966, 990)]:
    rect(x0, -2, x1, 18, fill='#fbfbfb', edge='#dcdcdc', w=1.5, radius=3)
poly([(941, 10), (955, 10), (948, 18)], fill='#505050', edge='#505050', w=1)
wire(941, 5, 955, 5, color='#505050', w=2.5)
poly([(971, 16), (985, 16), (978, 7)], fill='#505050', edge='#505050', w=1)
wire(971, 3, 985, 3, color='#505050', w=2.5)
text(1002, 9, 'Ovl', size=15)
for x0, x1, s in [(1038, 1069, '+'), (1082, 1113, '−')]:
    rect(x0, -2, x1, 19, fill='#30b090', radius=4)
    text((x0 + x1) / 2, 8, '<b>%s</b>' % s, anchor='center', color='#ffffff', size=16)
rect(1121, -2, 1515, 18, fill='#ffffff')
wire(1121, 19, 1515, 19, color='#a0a0a0', w=1.5)
text(1123, 9, 'To the Right 1-1', size=15)
rect(2009, -2, 2050, 20, fill='#ffffff')
wire(2009, 20, 2050, 20, color='#a0a0a0', w=1.5)
text(2024, 9, '20', size=15)

fig.update_layout(shapes=shapes, annotations=notes)

fig.write_html("out.html", config={'displayModeBar': False},
               post_script="document.body.style.margin='0';document.body.style.overflow='hidden';")
